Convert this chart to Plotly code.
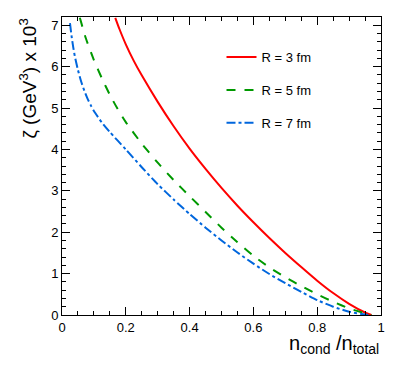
import plotly.graph_objects as go

# Data
x_r3 = [0.167, 0.18, 0.2, 0.225, 0.25, 0.3, 0.35, 0.4, 0.45, 0.5, 0.55, 0.6, 0.65, 0.7, 0.75, 0.8, 0.85, 0.9, 0.95, 0.97]
y_r3 = [7.18, 6.91, 6.54, 6.14, 5.79, 5.15, 4.56, 4.02, 3.53, 3.07, 2.64, 2.24, 1.86, 1.50, 1.16, 0.83, 0.53, 0.27, 0.06, 0.0]

x_r5 = [0.056, 0.075, 0.1, 0.125, 0.15, 0.175, 0.2, 0.25, 0.3, 0.35, 0.4, 0.45, 0.5, 0.55, 0.6, 0.65, 0.7, 0.75, 0.8, 0.85, 0.9, 0.95, 0.97]
y_r5 = [7.18, 6.68, 6.16, 5.72, 5.32, 4.97, 4.66, 4.14, 3.68, 3.26, 2.87, 2.49, 2.11, 1.76, 1.43, 1.15, 0.91, 0.70, 0.50, 0.32, 0.16, 0.04, 0.0]

x_r7 = [0.025, 0.03, 0.035, 0.04, 0.05, 0.06, 0.07, 0.08, 0.09, 0.1, 0.125, 0.15, 0.2, 0.25, 0.3, 0.35, 0.4, 0.45, 0.5, 0.55, 0.6, 0.65, 0.7, 0.75, 0.8, 0.85, 0.9, 0.95, 0.96]
y_r7 = [7.05, 6.74, 6.48, 6.26, 5.92, 5.64, 5.42, 5.23, 5.07, 4.93, 4.65, 4.42, 4.00, 3.57, 3.16, 2.79, 2.44, 2.11, 1.80, 1.51, 1.24, 0.99, 0.77, 0.56, 0.36, 0.20, 0.08, 0.01, 0.0]

names = ["R = 3 fm", "R = 5 fm", "R = 7 fm"]
colors = ["#ff0000", "#009900", "#0066dd"]
dashes = ["solid", "dash", "dashdot"]

FONT = "Liberation Sans, Arial, Helvetica, sans-serif"

fig = go.Figure()
for i, (xs, ys) in enumerate([(x_r3, y_r3), (x_r5, y_r5), (x_r7, y_r7)]):
    fig.add_trace(go.Scatter(
        x=xs, y=ys, mode="lines", name=names[i],
        line=dict(color=colors[i], width=2, dash=dashes[i], shape="spline", smoothing=0.6),
        legendgroup=str(i),
    ))

axis_common = dict(
    showgrid=False, zeroline=False, showline=True, linecolor="black", linewidth=1,
    mirror="ticks", ticks="inside", ticklen=8, tickcolor="black", tickwidth=1,
    tickfont=dict(family=FONT, size=13, color="black"),
)

fig.update_xaxes(range=[0, 1], dtick=0.2, tick0=0, tickformat="~g",
                 minor=dict(dtick=0.05, ticks="inside", ticklen=4, tickcolor="black"),
                 **axis_common)
fig.update_yaxes(range=[0, 7.2], dtick=1, tick0=0,
                 minor=dict(dtick=0.2, ticks="inside", ticklen=4, tickcolor="black"),
                 **axis_common)

fig.update_layout(
    width=381, height=363,
    margin=dict(l=54, r=4, t=9, b=56),
    paper_bgcolor="white", plot_bgcolor="white",
    font=dict(family=FONT, color="black"),
    showlegend=True,
    legend=dict(x=0.50, y=0.916, xanchor="left", yanchor="top",
                font=dict(family=FONT, size=13, color="black"),
                bgcolor="rgba(0,0,0,0)", tracegroupgap=13),
    annotations=[
        dict(text="n<sub>cond</sub> /n<sub>total</sub>", xref="paper", yref="paper",
             x=1.0, y=-0.05, xanchor="right", yanchor="top", showarrow=False,
             font=dict(family=FONT, size=20, color="black")),
        dict(text="ζ (GeV<sup>3</sup>) x 10<sup>3</sup>", xref="paper", yref="paper",
             x=-0.108, y=1.0, xanchor="center", yanchor="top", showarrow=False, textangle=-90,
             font=dict(family=FONT, size=19, color="black")),
    ],
)

fig.write_html("out.html")
